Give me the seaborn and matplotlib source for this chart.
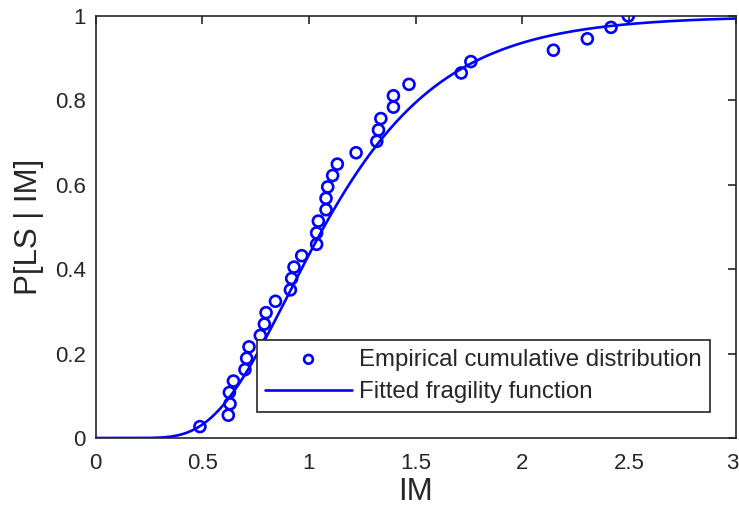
import math
import numpy as np
import pandas as pd
import matplotlib
matplotlib.use("Agg")
import matplotlib.pyplot as plt
import matplotlib.transforms as mtransforms
import seaborn as sns

# Observed intensity measures at which the limit state was reached (sorted)
im_obs = [0.489, 0.622, 0.630, 0.627, 0.646, 0.700, 0.708, 0.719, 0.772, 0.791,
          0.799, 0.843, 0.913, 0.919, 0.930, 0.966, 1.036, 1.036, 1.044, 1.080,
          1.080, 1.088, 1.111, 1.133, 1.221, 1.318, 1.326, 1.337, 1.396, 1.396,
          1.469, 1.714, 1.759, 2.146, 2.305, 2.416, 2.497]
# Empirical cumulative probability of each observation
p_obs = [0.027, 0.054, 0.081, 0.108, 0.135, 0.162, 0.189, 0.216, 0.243, 0.270,
         0.297, 0.324, 0.351, 0.378, 0.405, 0.432, 0.459, 0.486, 0.514, 0.541,
         0.568, 0.595, 0.622, 0.649, 0.676, 0.703, 0.730, 0.757, 0.784, 0.811,
         0.838, 0.865, 0.892, 0.919, 0.946, 0.973, 1.000]

# Lognormal fragility parameters: median and log-standard deviation
theta = 1.07
beta = 0.41

x_ticks = [0, 0.5, 1, 1.5, 2, 2.5, 3]
y_ticks = [0, 0.2, 0.4, 0.6, 0.8, 1]
x_tick_labels = ["0", "0.5", "1", "1.5", "2", "2.5", "3"]
y_tick_labels = ["0", "0.2", "0.4", "0.6", "0.8", "1"]

im_grid = np.linspace(0.001, 3, 400)
p_fit = np.array([0.5 * (1 + math.erf(math.log(v / theta) / (beta * math.sqrt(2))))
                  for v in im_grid])

emp = pd.DataFrame({"IM": im_obs, "P": p_obs})
fit = pd.DataFrame({"IM": im_grid, "P": p_fit})

sns.set_theme(style="white")
plt.rcParams["font.family"] = ["Liberation Sans", "DejaVu Sans"]

fig = plt.figure(figsize=(7.39, 5.08), dpi=100)
ax = fig.add_axes([0.1294, 0.1378, 0.866, 0.8307])

sns.scatterplot(data=emp, x="IM", y="P", ax=ax, marker="o", s=62,
                facecolors="none", edgecolor="#0000ff", linewidth=1.9,
                label="Empirical cumulative distribution", zorder=3)
sns.lineplot(data=fit, x="IM", y="P", ax=ax, color="#0000ff", linewidth=1.9,
             label="Fitted fragility function", zorder=2)

ax.set_xlim(0, 3)
ax.set_ylim(0, 1)
ax.set_xticks(x_ticks)
ax.set_xticklabels(x_tick_labels)
ax.set_yticks(y_ticks)
ax.set_yticklabels(y_tick_labels)
ax.set_xlabel("IM", fontsize=22.5, color="#262626", labelpad=2)
ax.set_ylabel("P[LS | IM]", fontsize=22.5, color="#262626", labelpad=8)
ax.tick_params(axis="both", which="both", direction="in", length=6, width=1.2,
               top=True, right=True, labelsize=16, colors="#262626",
               labelcolor="#262626")
ax.tick_params(axis="x", pad=11)
ax.tick_params(axis="y", pad=7)
for sp in ax.spines.values():
    sp.set_visible(True)
    sp.set_color("#262626")
    sp.set_linewidth(1.2)

# keep the last x tick label inside the canvas
last = ax.get_xticklabels()[-1]
last.set_transform(last.get_transform()
                   + mtransforms.ScaledTranslation(-3 / 100, 0, fig.dpi_scale_trans))

leg = ax.legend(loc="lower right", bbox_to_anchor=(0.960, 0.062),
                fontsize=17.3, frameon=True, fancybox=False, framealpha=1,
                edgecolor="#262626", borderpad=0.35, handlelength=3.6,
                handletextpad=0.3, labelspacing=0.45, markerscale=0.8,
                borderaxespad=0)
leg.get_frame().set_linewidth(1.2)

fig.savefig("out.png", dpi=100)
